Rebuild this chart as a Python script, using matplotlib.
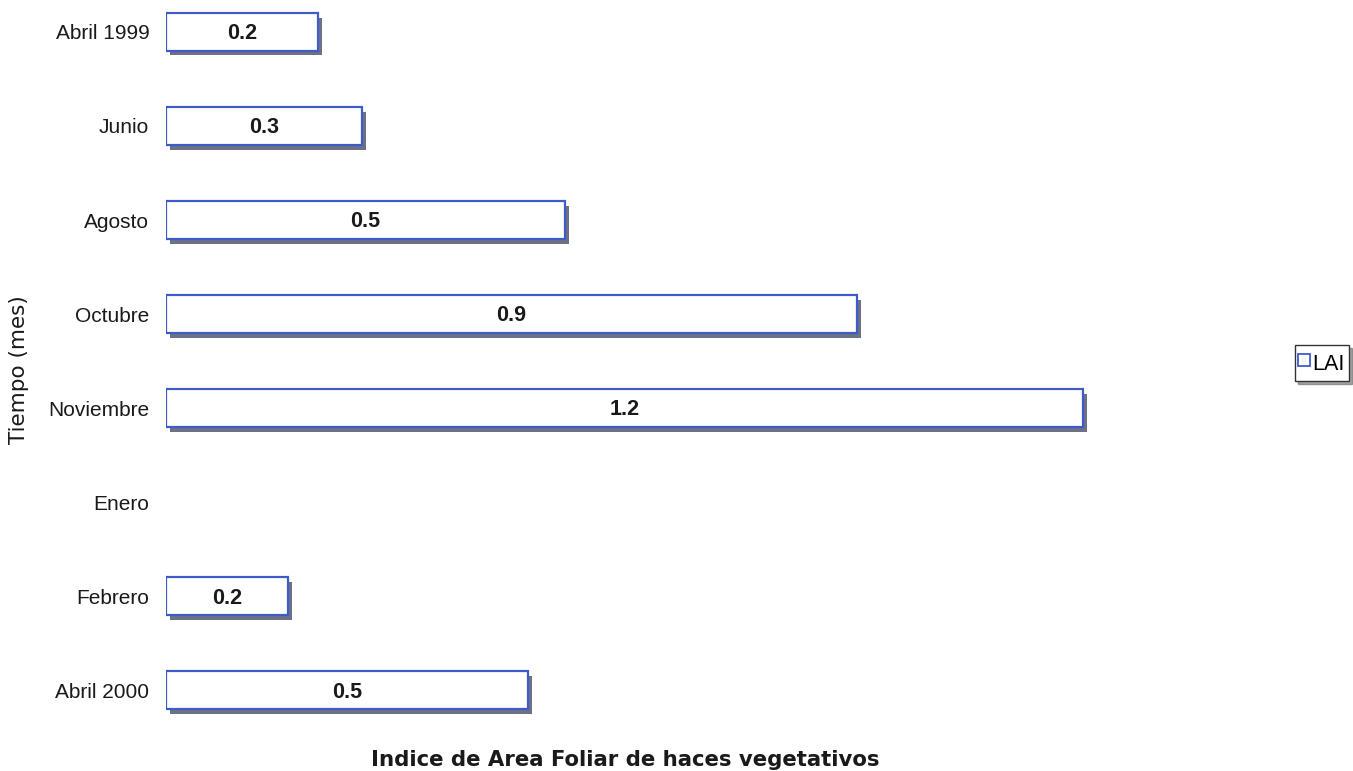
import matplotlib
matplotlib.use("Agg")
import matplotlib.pyplot as plt
import matplotlib.patheffects as pe
from matplotlib.lines import Line2D
import numpy as np

# Leaf area index of vegetative shoots by sampling month
months = ["Abril 1999", "Junio", "Agosto", "Octubre", "Noviembre", "Enero", "Febrero", "Abril 2000"]
lai = [0.199, 0.257, 0.523, 0.906, 1.202, np.nan, 0.16, 0.474]

W, H = 1353, 771
fig = plt.figure(figsize=(W / 100, H / 100), dpi=100)
fig.patch.set_facecolor("white")

left_px, right_px, top_px, bot_px = 166, 1234, 0, 740
ax = fig.add_axes([left_px / W, 1 - bot_px / H, (right_px - left_px) / W, (bot_px - top_px) / H])

pos = np.arange(len(months))
shadow = [pe.SimplePatchShadow(offset=(3.0, -3.4), shadow_rgbFace="#545872", alpha=0.85), pe.Normal()]
bars = ax.barh(pos, np.nan_to_num(lai), height=0.40, color="white",
               edgecolor="#3d5cc8", linewidth=1.6, zorder=3)
for b, v in zip(bars, lai):
    if np.isnan(v):
        b.set_visible(False)
        continue
    b.set_path_effects(shadow)
    ax.text(v / 2, b.get_y() + b.get_height() / 2 + 0.02, f"{v:.1f}", ha="center", va="center",
            fontsize=15.5, fontweight="bold", family="Liberation Sans", color="#1a1a1a", zorder=4)

ax.set_xlim(0, 1.4)
ax.set_ylim(7.53, -0.34)
ax.set_yticks(pos)
ax.set_yticklabels(months, family="Liberation Sans", fontsize=15, color="#1a1a1a")
ax.tick_params(axis="y", length=0, pad=12)
ax.set_xticks([])
for s in ax.spines.values():
    s.set_visible(False)

ax.set_xlabel("Indice de Area Foliar de haces vegetativos", family="DejaVu Sans",
              fontsize=15.3, fontweight="bold", color="#1a1a1a")
ax.xaxis.set_label_coords(0.43, -0.013)
ax.set_ylabel("Tiempo (mes)", family="DejaVu Sans", fontsize=15.5, color="#1a1a1a")
ax.yaxis.set_label_coords(-0.128, 0.5)

handle = Line2D([], [], linestyle="none", marker="s", markersize=8.5,
                markerfacecolor="white", markeredgecolor="#3d5cc8", markeredgewidth=1.3)
leg = fig.legend([handle], ["LAI"], loc="upper left",
                 bbox_to_anchor=(1295 / W, 1 - 345 / H), borderaxespad=0.0,
                 fancybox=False, shadow=True,
                 handlelength=0.45, handleheight=1.6, handletextpad=0.15,
                 borderpad=0.2, prop={"family": "Liberation Sans", "size": 15.5})
leg.get_frame().set_edgecolor("#333333")
leg.get_frame().set_linewidth(1.0)

fig.savefig("out.png", dpi=100, facecolor="white")
